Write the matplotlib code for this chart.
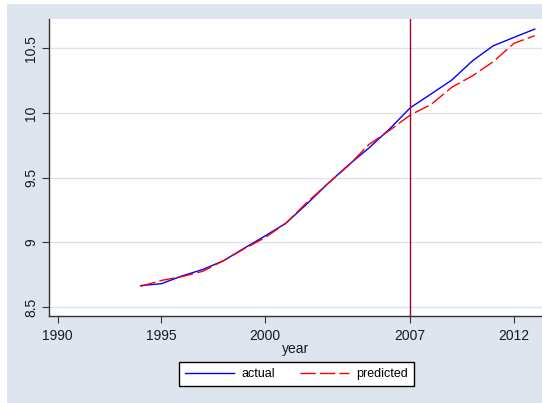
import matplotlib
matplotlib.use("Agg")
import matplotlib.pyplot as plt
from matplotlib.patches import Rectangle

plt.rcParams["font.family"] = ["Liberation Sans", "DejaVu Sans"]

# values
years = list(range(1994, 2014))
actual = [8.665, 8.68, 8.74, 8.79, 8.858, 8.955, 9.049, 9.147, 9.294, 9.45,
          9.595, 9.728, 9.876, 10.04, 10.146, 10.254, 10.403, 10.519, 10.584, 10.648]
predicted = [8.66, 8.705, 8.735, 8.776, 8.858, 8.95, 9.036, 9.147, 9.306, 9.45,
             9.59, 9.755, 9.865, 9.984, 10.065, 10.198, 10.287, 10.396, 10.538, 10.597]
cutoff_year = 2007
xticks = [1990, 1995, 2000, 2007, 2012]
yticks = [8.5, 9, 9.5, 10, 10.5]

bg = "#DFE5EF"
grid_col = "#DCE2EE"

fig = plt.figure(figsize=(5.42, 4.03), dpi=100, facecolor="white")
bg_rect = Rectangle((7 / 542, 0), 1 - 7 / 542, 1 - 4 / 403,
                    transform=fig.transFigure, facecolor=bg,
                    edgecolor="none", zorder=-10)
fig.add_artist(bg_rect)

ax = fig.add_axes([49 / 542, (403 - 316) / 403, 1 - 49 / 542, (316 - 19) / 403])
ax.set_facecolor("white")

l1, = ax.plot(years, actual, color="#0000FF", lw=1.0, label="actual", zorder=3)
l2, = ax.plot(years, predicted, color="#FF0000", lw=1.0,
              linestyle=(0, (11, 3)), label="predicted", zorder=4)
ax.axvline(cutoff_year, color="#A8002A", lw=1.0, zorder=5)

ax.set_xlim(1989.58, 2013.35)
ax.set_ylim(8.43, 10.726)
ax.set_xticks(xticks)
ax.set_yticks(yticks)
ax.set_yticklabels(["8.5", "9", "9.5", "10", "10.5"], rotation=90, va="center")
ax.tick_params(axis="both", direction="out", length=5, width=0.8,
               color="#333333", labelsize=10, labelcolor="#1a1a1a")
ax.tick_params(axis="y", pad=3)
ax.tick_params(axis="x", pad=4)

ax.grid(axis="y", color=grid_col, lw=1.0)
ax.set_axisbelow(True)
for s in ["top", "right"]:
    ax.spines[s].set_visible(False)
for s in ["left", "bottom"]:
    ax.spines[s].set_color("#333333")
    ax.spines[s].set_linewidth(1.0)

ax.set_xlabel("year", fontsize=10, color="#1a1a1a", labelpad=0)

leg = fig.legend(handles=[l1, l2], loc="center",
                 bbox_to_anchor=(296.5 / 542, 1 - 374 / 403), ncol=2,
                 fontsize=9, frameon=True, fancybox=False, handlelength=3.9,
                 columnspacing=2.0, handletextpad=0.6, borderpad=0.5)
leg.get_frame().set_edgecolor("black")
leg.get_frame().set_linewidth(1.0)
leg.get_frame().set_facecolor("white")
leg.get_frame().set_alpha(1)

fig.savefig("out.png", dpi=100, facecolor=fig.get_facecolor())
